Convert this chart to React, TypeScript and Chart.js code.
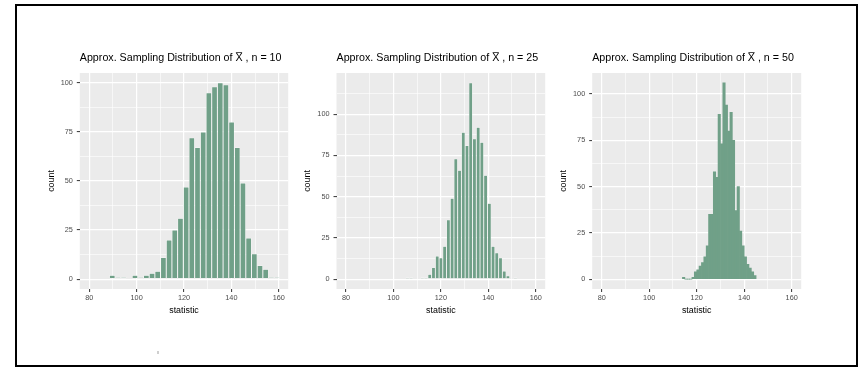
import React, { useEffect, useRef } from 'react';
import { Chart, registerables } from 'chart.js';

Chart.register(...registerables);

// ---- data ----
const xTicks = [80, 100, 120, 140, 160];
const xMinor = [90, 110, 130, 150];
const yTicks = [0, 25, 50, 75, 100];
const yMinor = [12.5, 37.5, 62.5, 87.5, 112.5];

const bins10 = [89.7, 92.1, 94.5, 96.9, 99.3, 101.7, 104.1, 106.5, 108.9, 111.3, 113.7, 116.1, 118.5, 120.9, 123.3,
  125.7, 128.1, 130.5, 132.9, 135.3, 137.7, 140.1, 142.5, 144.9, 147.3, 149.7, 152.1, 154.5, 156.9, 159.3];
const counts10 = [2, 1, 1, 0, 2, 1, 2, 3, 4, 11, 20, 25, 31, 47, 72,
  67, 75, 95, 98, 100, 99, 80, 67, 49, 21, 13, 7, 5, 1, 1];

const bins25 = [105.9, 107.47, 109.04, 110.61, 112.18, 113.75, 115.32, 116.89, 118.46, 120.03, 121.6, 123.17, 124.74, 126.31, 127.88,
  129.45, 131.02, 132.59, 134.16, 135.73, 137.3, 138.87, 140.44, 142.01, 143.58, 145.15, 146.72, 148.29, 149.86, 151.43];
const counts25 = [1, 1, 0, 0, 1, 1, 3, 7, 14, 13, 20, 36, 49, 73, 66,
  89, 81, 119, 85, 92, 83, 63, 46, 20, 16, 13, 5, 2, 0, 1];

const bins50 = [114.5, 115.5, 116.5, 117.5, 118.5, 119.5, 120.5, 121.5, 122.5, 123.5, 124.5, 125.5, 126.5, 127.5, 128.5, 129.5,
  130.5, 131.5, 132.5, 133.5, 134.5, 135.5, 136.5, 137.5, 138.5, 139.5, 140.5, 141.5, 142.5, 143.5, 144.5];
const counts50 = [1, 0, 0, 0, 1, 4, 5, 7, 9, 12, 18, 35, 35, 58, 55, 89,
  73, 106, 94, 80, 90, 75, 37, 50, 26, 18, 12, 8, 6, 4, 2];

const titles = [
  'Approx. Sampling Distribution of X\u0305 , n = 10',
  'Approx. Sampling Distribution of X\u0305 , n = 25',
  'Approx. Sampling Distribution of X\u0305 , n = 50',
];
const xLabel = 'statistic';
const yLabel = 'count';

// ---- style ----
const FONT = '"Liberation Sans", Arial, Helvetica, sans-serif';
const BAR = '#70A088';
const PANEL_BG = '#EBEBEB';
const TOP = 40;
const CH_TOP = 73;
const CH_BOTTOM = 289;
const CANVAS_BOTTOM = 316;
const TITLE_Y = 58;

type Spec = {
  left: number; x0: number; x1: number; yMin: number; yMax: number;
  bins: number[]; counts: number[]; title: string; border: number; inflate: number;
};

const specs: Spec[] = [
  { left: 46, x0: 79.8, x1: 288.2, yMin: -5, yMax: 105, bins: bins10, counts: counts10, title: titles[0], border: 0.5, inflate: 0 },
  { left: 302, x0: 336.5, x1: 545.2, yMin: -5.95, yMax: 124.95, bins: bins25, counts: counts25, title: titles[1], border: 0.45, inflate: 0 },
  { left: 558, x0: 592.2, x1: 801.2, yMin: -5.3, yMax: 111.3, bins: bins50, counts: counts50, title: titles[2], border: 0, inflate: 0.35 },
];

function Panel({ spec }: { spec: Spec }) {
  const ref = useRef<HTMLCanvasElement>(null);
  const width = Math.ceil(spec.x1 - spec.left + 8);
  const height = CANVAS_BOTTOM - TOP;

  useEffect(() => {
    const canvas = ref.current;
    if (!canvas) return;
    const isMajorX = (v: any) => xTicks.includes(v);
    const isMajorY = (v: any) => yTicks.includes(v);

    const bg = {
      id: 'panelBg',
      beforeDraw(chart: any) {
        const { ctx, chartArea: a } = chart;
        ctx.save();
        ctx.fillStyle = PANEL_BG;
        ctx.fillRect(a.left, a.top, a.right - a.left, a.bottom - a.top);
        ctx.restore();
      },
    };
    const titlePlugin = {
      id: 'panelTitle',
      afterDraw(chart: any) {
        const { ctx, chartArea: a } = chart;
        ctx.save();
        ctx.font = `10.7px ${FONT}`;
        ctx.fillStyle = '#000';
        ctx.textBaseline = 'middle';
        ctx.textAlign = 'left';
        ctx.fillText(spec.title, a.left, TITLE_Y - TOP);
        ctx.restore();
      },
    };

    const chart = new Chart(canvas, {
      type: 'bar',
      data: {
        datasets: [{
          data: spec.bins.map((b, i) => ({ x: b, y: spec.counts[i] })),
          backgroundColor: BAR,
          borderColor: '#ffffff',
          borderWidth: spec.border,
          borderSkipped: false,
          inflateAmount: spec.inflate,
          barPercentage: 1,
          categoryPercentage: 1,
        } as any],
      },
      options: {
        responsive: false,
        animation: false,
        devicePixelRatio: 1,
        layout: { padding: { top: CH_TOP - TOP, right: spec.left + width - spec.x1, left: 0, bottom: 0 } },
        plugins: { legend: { display: false }, tooltip: { enabled: false }, title: { display: false } },
        scales: {
          x: {
            type: 'linear', min: 76, max: 164, offset: false,
            afterBuildTicks: (s: any) => {
              s.ticks = [...xTicks, ...xMinor].sort((a, b) => a - b).map((v) => ({ value: v }));
            },
            afterFit: (s: any) => { s.height = CANVAS_BOTTOM - CH_BOTTOM; },
            grid: {
              offset: false, color: '#ffffff',
              lineWidth: (c: any) => (isMajorX(c.tick && c.tick.value) ? 1.2 : 0.6),
              drawTicks: true, tickLength: 3, tickWidth: 1,
              tickColor: (c: any) => (isMajorX(c.tick && c.tick.value) ? '#333333' : 'rgba(0,0,0,0)'),
            },
            border: { display: false },
            ticks: {
              autoSkip: false, maxRotation: 0, minRotation: 0, padding: 2, color: '#4D4D4D',
              font: { family: FONT, size: 7.3 },
              callback: (v: any) => (isMajorX(v) ? String(v) : ''),
            },
            title: { display: true, text: xLabel, color: '#000', font: { family: FONT, size: 8.9 }, padding: 0 },
          },
          y: {
            type: 'linear', min: spec.yMin, max: spec.yMax,
            afterBuildTicks: (s: any) => {
              s.ticks = [...yTicks, ...yMinor]
                .filter((v) => v >= spec.yMin && v <= spec.yMax)
                .sort((a, b) => a - b)
                .map((v) => ({ value: v }));
            },
            afterFit: (s: any) => { s.width = spec.x0 - spec.left; },
            grid: {
              color: '#ffffff',
              lineWidth: (c: any) => (isMajorY(c.tick && c.tick.value) ? 1.2 : 0.6),
              drawTicks: true, tickLength: 3, tickWidth: 1,
              tickColor: (c: any) => (isMajorY(c.tick && c.tick.value) ? '#333333' : 'rgba(0,0,0,0)'),
            },
            border: { display: false },
            ticks: {
              autoSkip: false, padding: 4, color: '#4D4D4D',
              font: { family: FONT, size: 7.3 },
              callback: (v: any) => (isMajorY(v) ? String(v) : ''),
            },
            title: { display: true, text: yLabel, color: '#000', font: { family: FONT, size: 8.9 }, padding: 0 },
          },
        },
      } as any,
      plugins: [bg, titlePlugin],
    });
    return () => chart.destroy();
  }, []);

  return (
    <canvas
      ref={ref}
      width={width}
      height={height}
      style={{ position: 'absolute', left: spec.left, top: TOP, width, height }}
    />
  );
}

export default function App() {
  return (
    <div style={{ position: 'fixed', left: 0, top: 0, width: 862, height: 367, background: '#fff', overflow: 'hidden' }}>
      <div
        style={{
          position: 'absolute', left: 15, top: 4, width: 843, height: 363,
          border: '2px solid #000', boxSizing: 'border-box',
        }}
      />
      {specs.map((s, i) => (
        <Panel key={i} spec={s} />
      ))}
      <div style={{ position: 'absolute', left: 157, top: 351, width: 2, height: 3, background: '#cfcfcf' }} />
    </div>
  );
}
